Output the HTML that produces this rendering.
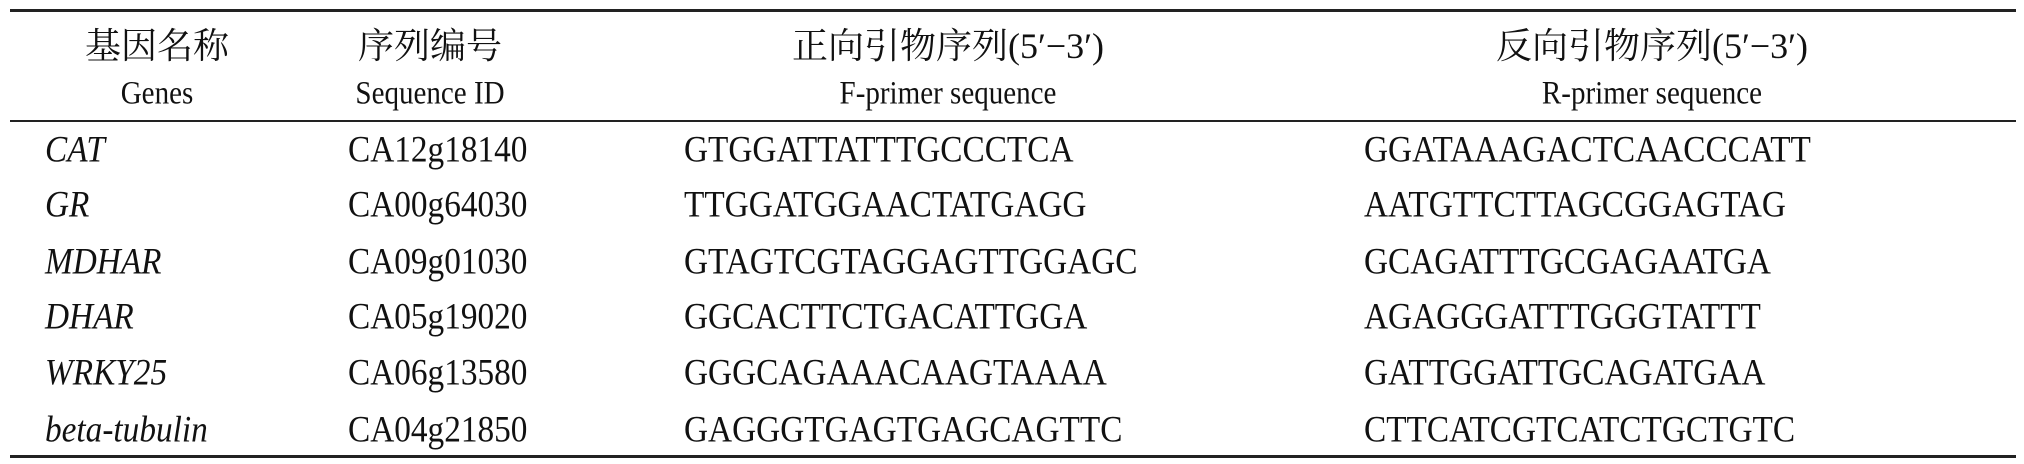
<!DOCTYPE html>
<html><head><meta charset="utf-8"><style>
body{margin:0;width:2024px;height:464px;background:#fff;position:relative;overflow:hidden;font-family:"Liberation Serif","Noto Serif CJK SC",serif;color:#111}
.l{position:absolute;left:10px;width:2006px;background:#222}
.t{position:absolute;white-space:nowrap;font-size:37px;line-height:1;transform:translateY(-50%) scaleX(0.9);transform-origin:0 50%}
.c{transform:translate(-50%,-50%) scaleX(0.88);transform-origin:50% 50%}
.h{font-size:36px;transform:translate(-50%,-50%)}
i{font-style:italic}
</style></head><body>
<div class="l" style="top:9px;height:3px"></div>
<div class="l" style="top:120px;height:2px"></div>
<div class="l" style="top:455px;height:3px"></div>

<div class="t c h" style="left:157px;top:46px">基因名称</div>
<div class="t c" style="left:157px;top:94px;font-size:33px">Genes</div>
<div class="t c h" style="left:430px;top:46px">序列编号</div>
<div class="t c" style="left:430px;top:94px;font-size:33px">Sequence ID</div>
<div class="t c h" style="left:948px;top:46px">正向引物序列(5′−3′)</div>
<div class="t c" style="left:948px;top:94px;font-size:33px">F-primer sequence</div>
<div class="t c h" style="left:1652px;top:46px">反向引物序列(5′−3′)</div>
<div class="t c" style="left:1652px;top:94px;font-size:33px">R-primer sequence</div>

<div class="t" style="left:45px;top:150px"><i>CAT</i></div>
<div class="t" style="left:45px;top:205px"><i>GR</i></div>
<div class="t" style="left:45px;top:262px"><i>MDHAR</i></div>
<div class="t" style="left:45px;top:317px"><i>DHAR</i></div>
<div class="t" style="left:45px;top:373px"><i>WRKY25</i></div>
<div class="t" style="left:45px;top:430px"><i>beta-tubulin</i></div>

<div class="t" style="left:348px;top:150px">CA12g18140</div>
<div class="t" style="left:348px;top:205px">CA00g64030</div>
<div class="t" style="left:348px;top:262px">CA09g01030</div>
<div class="t" style="left:348px;top:317px">CA05g19020</div>
<div class="t" style="left:348px;top:373px">CA06g13580</div>
<div class="t" style="left:348px;top:430px">CA04g21850</div>

<div class="t" style="left:684px;top:150px">GTGGATTATTTGCCCTCA</div>
<div class="t" style="left:684px;top:205px">TTGGATGGAACTATGAGG</div>
<div class="t" style="left:684px;top:262px">GTAGTCGTAGGAGTTGGAGC</div>
<div class="t" style="left:684px;top:317px">GGCACTTCTGACATTGGA</div>
<div class="t" style="left:684px;top:373px">GGGCAGAAACAAGTAAAA</div>
<div class="t" style="left:684px;top:430px">GAGGGTGAGTGAGCAGTTC</div>

<div class="t" style="left:1364px;top:150px">GGATAAAGACTCAACCCATT</div>
<div class="t" style="left:1364px;top:205px">AATGTTCTTAGCGGAGTAG</div>
<div class="t" style="left:1364px;top:262px">GCAGATTTGCGAGAATGA</div>
<div class="t" style="left:1364px;top:317px">AGAGGGATTTGGGTATTT</div>
<div class="t" style="left:1364px;top:373px">GATTGGATTGCAGATGAA</div>
<div class="t" style="left:1364px;top:430px">CTTCATCGTCATCTGCTGTC</div>
</body></html>
